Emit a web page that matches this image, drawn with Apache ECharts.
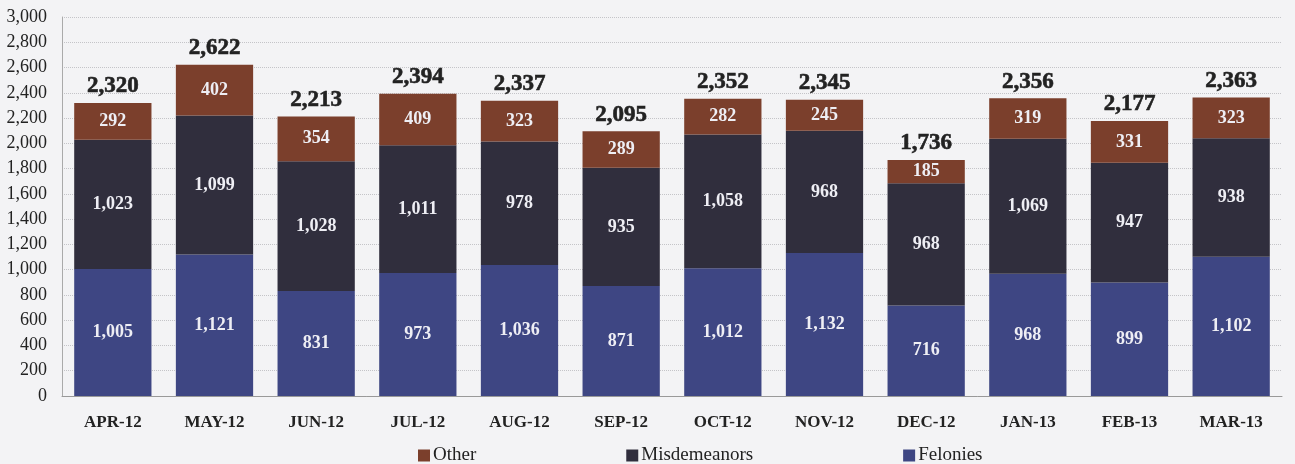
<!DOCTYPE html>
<html><head><meta charset="utf-8">
<script src="https://cdn.jsdelivr.net/npm/echarts@6/dist/echarts.min.js"></script>
<style>html,body{margin:0;padding:0;background:#f3f3f5;}#c{width:1295px;height:464px;}</style>
</head><body><div id="c"></div>
<script>
const categories = ['APR-12','MAY-12','JUN-12','JUL-12','AUG-12','SEP-12','OCT-12','NOV-12','DEC-12','JAN-13','FEB-13','MAR-13'];
const felonies = [1005,1121,831,973,1036,871,1012,1132,716,968,899,1102];
const misdemeanors = [1023,1099,1028,1011,978,935,1058,968,968,1069,947,938];
const other = [292,402,354,409,323,289,282,245,185,319,331,323];
const totals = [2320,2622,2213,2394,2337,2095,2352,2345,1736,2356,2177,2363];

const fmt = v => v.toLocaleString('en-US');
const font = '"Liberation Serif","DejaVu Serif",serif';
const segLabel = {show:true, position:'inside', color:'#eeeef4', fontFamily:font, fontWeight:'bold', fontSize:18,
  formatter: p => fmt(p.value)};

const chart = echarts.init(document.getElementById('c'));
chart.setOption({
  backgroundColor:'#f3f3f5',
  animation:false,
  grid:{left:62, right:13, top:17, bottom:68},
  legend:{top:441, left:413, itemGap:150, itemWidth:12, itemHeight:12, icon:'rect',
    data:['Other','Misdemeanors','Felonies'],
    textStyle:{fontFamily:font, fontSize:19, color:'#222', padding:[0,0,0,-2]}},
  xAxis:{type:'category', data:categories,
    axisLine:{lineStyle:{color:'#999'}}, axisTick:{show:false},
    axisLabel:{fontFamily:font, fontWeight:'bold', fontSize:17, color:'#222', margin:18}},
  yAxis:{type:'value', min:0, max:3000, interval:200,
    axisLine:{show:true, lineStyle:{color:'#aaa'}},
    axisLabel:{fontFamily:font, fontSize:18, color:'#222', formatter: v => fmt(v), margin:15},
    splitLine:{lineStyle:{color:'#c4c4c8', type:'dotted'}}},
  series:[
    {name:'Felonies', type:'bar', stack:'a', data:felonies, barWidth:'76%',
      itemStyle:{color:'#3e4683'}, label:segLabel},
    {name:'Misdemeanors', type:'bar', stack:'a', data:misdemeanors,
      itemStyle:{color:'#302e3d'}, label:segLabel},
    {name:'Other', type:'bar', stack:'a', data:other,
      itemStyle:{color:'#7b3f2c'}, label:segLabel},
    {name:'Total', type:'bar', stack:'a', data:other.map(()=>0), silent:true,
      itemStyle:{color:'transparent'},
      label:{show:true, position:'top', distance:5, color:'#222', fontFamily:font, fontWeight:700, fontSize:23,
        textBorderColor:'#222', textBorderWidth:0.6,
        formatter: p => fmt(totals[p.dataIndex])}}
  ]
});
</script></body></html>
